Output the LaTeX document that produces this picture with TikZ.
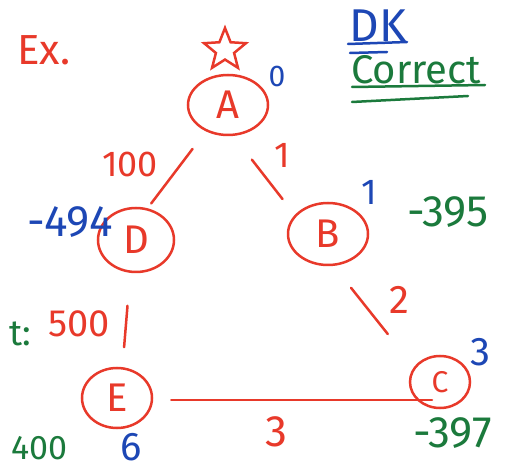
\documentclass[tikz,border=0pt]{standalone}
\usepackage{fontspec}
\setmainfont{Fira Sans}
\usetikzlibrary{shapes.geometric}
\definecolor{inkred}{HTML}{E8392A}
\definecolor{inkblue}{HTML}{1D47B5}
\definecolor{inkgreen}{HTML}{1B7A3C}
\newcommand{\fs}[1]{\fontsize{#1}{#1}\selectfont}
\tikzset{
  vtx/.style={ellipse, draw=inkred, line width=2.5pt, inner sep=0pt, text=inkred, font=\fs{40}},
  edge/.style={draw=inkred, line width=2.5pt, line cap=round},
  redtxt/.style={text=inkred, inner sep=0pt},
  bluetxt/.style={text=inkblue, inner sep=0pt},
  greentxt/.style={text=inkgreen, inner sep=0pt},
  uline/.style={line width=2.5pt, line cap=round},
}
\begin{document}
\begin{tikzpicture}[x=1pt,y=-1pt]
\useasboundingbox (0,0) rectangle (525,470);
\clip (0,0) rectangle (525,470);
\fill[white] (0,0) rectangle (525,470);

% vertices
\node[vtx, minimum width=80pt, minimum height=60pt] (A) at (228,105) {A};
\node[vtx, minimum width=76pt, minimum height=64pt] (D) at (136,240) {D};
\node[vtx, minimum width=80pt, minimum height=62pt] (B) at (328,234) {B};
\node[vtx, minimum width=60pt, minimum height=52pt, font=\fs{30}] (C) at (440,382) {C};
\node[vtx, minimum width=70pt, minimum height=60pt] (E) at (117,398) {E};

% star above A
\node[star, star points=5, star point ratio=2.3, draw=inkred, line width=2.5pt, minimum size=44pt, inner sep=0pt] (S) at (225,50) {};

% edges
\draw[edge, shorten <=22pt, shorten >=6pt] (A.-130) -- (D.70);
\draw[edge, shorten <=30pt, shorten >=20pt] (A.-80) -- (B.150);
\draw[edge, shorten <=28pt, shorten >=42pt] (B.-80) -- (C.150);
\draw[edge, shorten <=18pt, shorten >=8pt] ([yshift=-2pt]E.east) -- ([yshift=-2pt]E.east -| C);
\draw[edge, shorten <=33pt, shorten >=20pt] (D.-100) -- (E.80);

% edge weights
\node[redtxt, font=\fs{36}] (w1) at (130,164) {100};
\node[redtxt, font=\fs{36}] (w2) at (282,155) {1};
\node[redtxt, font=\fs{40}] (w3) at (399,300) {2};
\node[redtxt, font=\fs{44}] (w4) at (276,432) {3};
\node[redtxt, font=\fs{38}] (w5) at (79,324) {500};

% blue labels
\node[bluetxt, font=\fs{30}] (dA) at (277,76) {0};
\node[bluetxt, font=\fs{44}] (dD) at (70,222) {-494};
\node[bluetxt, font=\fs{36}] (dB) at (369,192) {1};
\node[bluetxt, font=\fs{40}] (dC) at (480,352) {3};
\node[bluetxt, font=\fs{40}] (dE) at (131,447) {6};

% green labels
\node[greentxt, font=\fs{44}] (gB) at (448,212) {-395};
\node[greentxt, font=\fs{44}, anchor=west] (gC) at (413,433) {-397};
\node[greentxt, font=\fs{34}, anchor=east] (gE) at (68,448) {400};
\node[greentxt, font=\fs{36}, anchor=east] (gt) at (31,334) {t:};

% titles
\node[redtxt, font=\fs{42}] (ex) at (44,50) {Ex.};
\node[bluetxt, font=\fs{46}] (dk) at (378,26) {DK};
\draw[uline, inkblue] (348,44) -- (407,42);
\draw[uline, inkblue] (350,53) -- (387,52);
\node[greentxt, font=\fs{40}] (corr) at (416,70) {Correct};
\draw[uline, inkgreen] (352,87) -- (485,85);
\draw[uline, inkgreen] (352,102) -- (468,96);
\end{tikzpicture}
\end{document}
